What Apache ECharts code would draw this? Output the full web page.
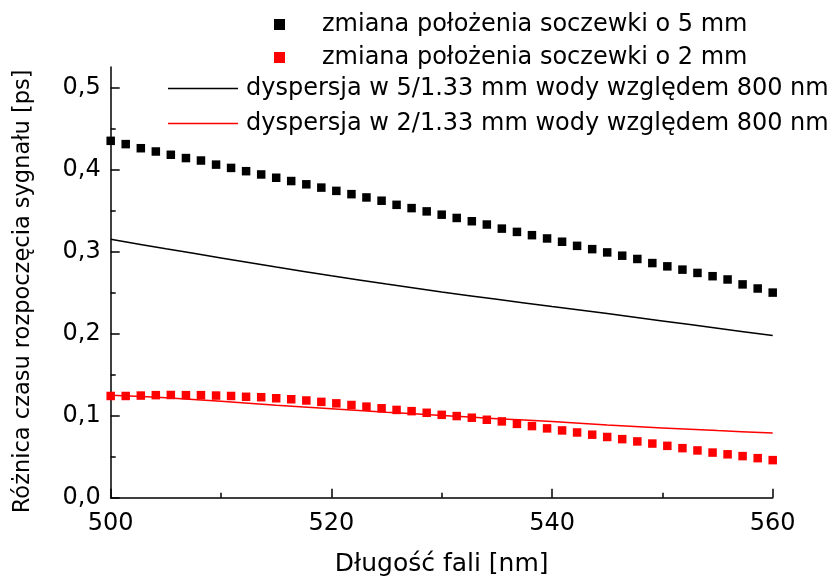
<!DOCTYPE html>
<html>
<head>
<meta charset="utf-8">
<script src="https://cdn.jsdelivr.net/npm/echarts@6/dist/echarts.min.js"></script>
<style>
  html, body { margin: 0; padding: 0; background: #ffffff; }
  #chart { width: 838px; height: 583px; }
</style>
</head>
<body>
<div id="chart"></div>
<script>
// Wavelengths of the measured points [nm]
const measuredWavelengths = [
  500.00, 501.36, 502.73, 504.09, 505.45, 506.82, 508.18, 509.55, 510.91, 512.27,
  513.64, 515.00, 516.36, 517.73, 519.09, 520.45, 521.82, 523.18, 524.55, 525.91,
  527.27, 528.64, 530.00, 531.36, 532.73, 534.09, 535.45, 536.82, 538.18, 539.55,
  540.91, 542.27, 543.64, 545.00, 546.36, 547.73, 549.09, 550.45, 551.82, 553.18,
  554.55, 555.91, 557.27, 558.64, 560.00
];

// Signal onset difference for a 5 mm lens shift [ps]
const shift5mm = [
  0.435, 0.431, 0.426, 0.422, 0.418, 0.414, 0.411, 0.406, 0.402, 0.398,
  0.394, 0.390, 0.386, 0.382, 0.378, 0.374, 0.370, 0.366, 0.362, 0.357,
  0.353, 0.349, 0.345, 0.341, 0.337, 0.333, 0.328, 0.324, 0.320, 0.316,
  0.312, 0.307, 0.303, 0.299, 0.295, 0.291, 0.286, 0.282, 0.278, 0.274,
  0.270, 0.266, 0.260, 0.255, 0.250
];

// Signal onset difference for a 2 mm lens shift [ps]
const shift2mm = [
  0.1240, 0.1240, 0.1245, 0.1250, 0.1252, 0.1250, 0.1250, 0.1245, 0.1240, 0.1230,
  0.1225, 0.1212, 0.1200, 0.1185, 0.1168, 0.1150, 0.1130, 0.1110, 0.1090, 0.1070,
  0.1055, 0.1035, 0.1010, 0.0995, 0.0975, 0.0950, 0.0930, 0.0900, 0.0873, 0.0845,
  0.0820, 0.0795, 0.0768, 0.0740, 0.0714, 0.0686, 0.0660, 0.0632, 0.0604, 0.0576,
  0.0550, 0.0529, 0.0507, 0.0482, 0.0458
];

// Wavelengths for the computed dispersion curves [nm]
const dispersionWavelengths = [500, 505, 510, 515, 520, 525, 530, 535, 540, 545, 550, 555, 560];

// Group delay in 5/1.33 mm of water relative to 800 nm [ps]
const dispersion5 = [0.3150, 0.3035, 0.2923, 0.2812, 0.2706, 0.2604, 0.2507, 0.2418, 0.2330, 0.2245, 0.2155, 0.2065, 0.1976];

// Group delay in 2/1.33 mm of water relative to 800 nm [ps]
const dispersion2 = [0.1250, 0.1218, 0.1175, 0.1128, 0.1085, 0.1043, 0.1003, 0.0963, 0.0928, 0.0885, 0.0850, 0.0818, 0.0789];

// Axis ticks
const xTicks = [500, 520, 540, 560];
const yTicks = [0, 0.1, 0.2, 0.3, 0.4, 0.5];
const yMinorTicks = [0.05, 0.15, 0.25, 0.35, 0.45];

const seriesNames = [
  'zmiana położenia soczewki o 5 mm',
  'zmiana położenia soczewki o 2 mm',
  'dyspersja w 5/1.33 mm wody względem 800 nm',
  'dyspersja w 2/1.33 mm wody względem 800 nm'
];

const FONT = '"DejaVu Sans", "Liberation Sans", Arial, sans-serif';
const FS = 24;

function pairs(xs, ys) {
  return xs.map((x, i) => [x, ys[i]]);
}

const chart = echarts.init(document.getElementById('chart'), null, { renderer: 'canvas' });

chart.setOption({
  backgroundColor: '#ffffff',
  animation: false,
  textStyle: { fontFamily: FONT, color: '#000' },
  grid: { left: 110.7, right: 65.3, top: 67, bottom: 85.3, containLabel: false },
  legend: [
    {
      orient: 'vertical',
      left: 274,
      top: 12.5,
      padding: 0,
      itemWidth: 11,
      itemHeight: 11,
      itemGap: 9,
      data: [
        { name: seriesNames[0], icon: 'rect', itemStyle: { opacity: 1 } },
        { name: seriesNames[1], icon: 'rect', itemStyle: { opacity: 1 } }
      ],
      textStyle: { fontFamily: FONT, fontSize: FS, color: '#000', lineHeight: 24, padding: [0, 0, 0, 32] }
    },
    {
      orient: 'vertical',
      left: 168,
      top: 76.5,
      padding: 0,
      itemWidth: 70,
      itemHeight: 1.5,
      itemGap: 11,
      data: [
        { name: seriesNames[2], icon: 'rect' },
        { name: seriesNames[3], icon: 'rect' }
      ],
      textStyle: { fontFamily: FONT, fontSize: FS, color: '#000', lineHeight: 24, padding: [0, 0, 0, 3] }
    }
  ],
  xAxis: {
    type: 'value',
    min: 500,
    max: 560,
    interval: 20,
    name: 'Długość fali [nm]',
    nameLocation: 'middle',
    nameGap: 54,
    nameTextStyle: { fontFamily: FONT, fontSize: 25, color: '#000' },
    axisLine: { show: true, onZero: false, lineStyle: { color: '#000', width: 1.5 } },
    axisTick: { show: true, inside: true, length: 9, lineStyle: { color: '#000', width: 1.5 } },
    minorTick: { show: true, splitNumber: 2, length: 5, lineStyle: { color: '#000', width: 1.5 } },
    axisLabel: {
      show: true, margin: 14, color: '#000', fontFamily: FONT, fontSize: FS,
      customValues: xTicks
    },
    splitLine: { show: false },
    minorSplitLine: { show: false }
  },
  yAxis: [
    {
      type: 'value',
      min: 0,
      max: 0.525,
      interval: 0.1,
      position: 'left',
      name: 'Różnica czasu rozpoczęcia sygnału [ps]',
      nameLocation: 'middle',
      nameGap: 76,
      nameRotate: 90,
      nameTextStyle: { fontFamily: FONT, fontSize: 22.5, color: '#000', padding: [0, 18, 0, 0] },
      axisLine: { show: true, lineStyle: { color: '#000', width: 1.5 } },
      axisTick: { show: true, inside: true, length: 9, customValues: yTicks, lineStyle: { color: '#000', width: 1.5 } },
      axisLabel: {
        show: true, margin: 10, color: '#000', fontFamily: FONT, fontSize: FS,
        customValues: yTicks,
        formatter: v => v.toFixed(1).replace('.', ',')
      },
      splitLine: { show: false }
    },
    {
      // minor ticks on the value axis
      type: 'value',
      min: 0,
      max: 0.525,
      interval: 0.1,
      position: 'left',
      axisLine: { show: false },
      axisTick: { show: true, inside: true, length: 5, customValues: yMinorTicks, lineStyle: { color: '#000', width: 1.5 } },
      axisLabel: { show: false },
      splitLine: { show: false }
    }
  ],
  series: [
    {
      name: seriesNames[0],
      type: 'scatter',
      symbol: 'rect',
      symbolSize: 8.5,
      clip: true,
      z: 3,
      itemStyle: { color: '#000000', opacity: 1 },
      data: pairs(measuredWavelengths, shift5mm)
    },
    {
      name: seriesNames[1],
      type: 'scatter',
      symbol: 'rect',
      symbolSize: 8.5,
      clip: true,
      z: 3,
      itemStyle: { color: '#ff0000', opacity: 1 },
      data: pairs(measuredWavelengths, shift2mm)
    },
    {
      name: seriesNames[2],
      type: 'line',
      showSymbol: false,
      symbol: 'none',
      smooth: 0.3,
      z: 2,
      lineStyle: { color: '#000000', width: 1.5 },
      itemStyle: { color: '#000000' },
      data: pairs(dispersionWavelengths, dispersion5)
    },
    {
      name: seriesNames[3],
      type: 'line',
      showSymbol: false,
      symbol: 'none',
      smooth: 0.3,
      z: 2,
      lineStyle: { color: '#ff0000', width: 1.5 },
      itemStyle: { color: '#ff0000' },
      data: pairs(dispersionWavelengths, dispersion2)
    }
  ]
});
</script>
</body>
</html>
